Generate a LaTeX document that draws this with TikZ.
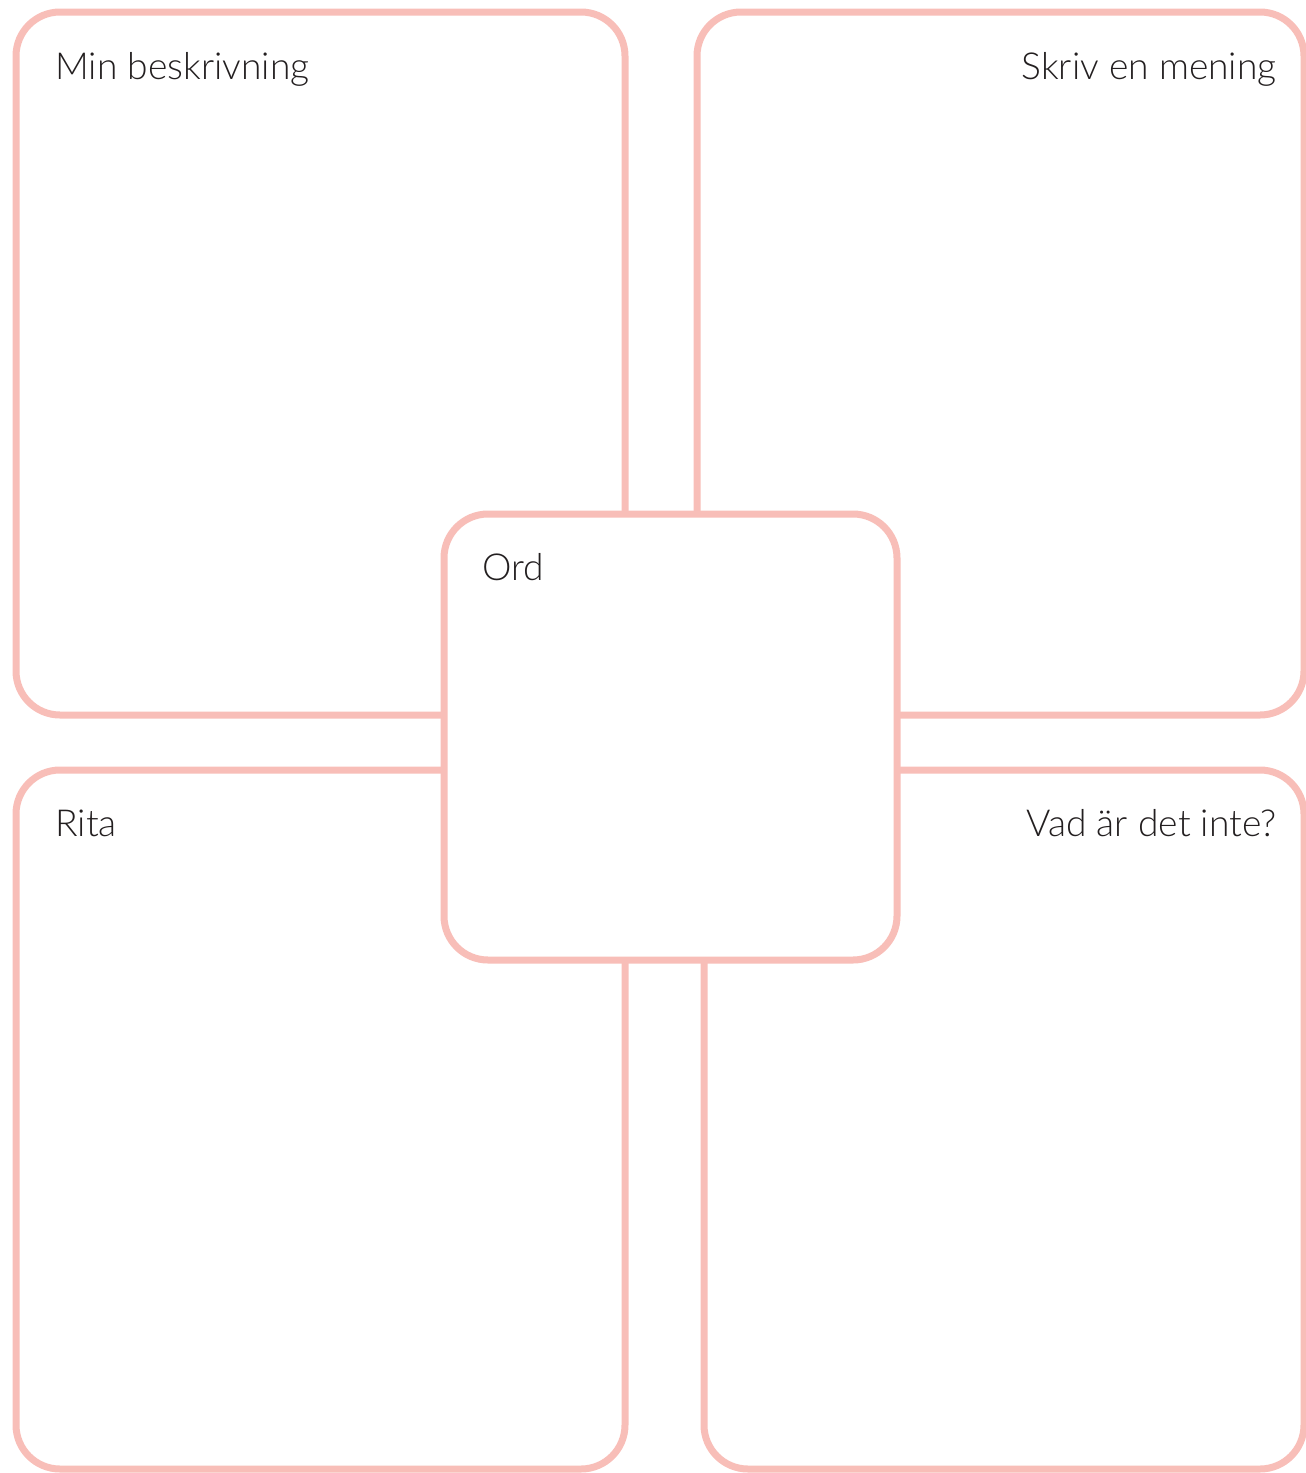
\documentclass[tikz,border=0pt]{standalone}
\usepackage{fontspec}
\setmainfont{Lato}[UprightFont=* Light]
\definecolor{rosa}{RGB}{248,190,184}
\definecolor{ink}{RGB}{35,31,32}
\begin{document}
\begin{tikzpicture}[x=0.5pt, y=-0.5pt,
    panel/.style={draw=rosa, line width=3.5pt, rounded corners=22pt, fill=white, inner sep=0pt},
    rubrik/.style={text=ink, font=\fontsize{18.6}{21}\selectfont, inner sep=0pt}]
  \useasboundingbox (0,0) rectangle (1306,1473);
  \node[panel, minimum width=304.5pt, minimum height=351.5pt] (beskr) at (320.5,363.5) {};
  \node[panel, minimum width=303.5pt, minimum height=351.5pt] (mening) at (1000.5,363.5) {};
  \node[panel, minimum width=304.5pt, minimum height=349.5pt] (rita) at (320.5,1119.5) {};
  \node[panel, minimum width=300pt, minimum height=349.5pt] (inte) at (1004,1119.5) {};
  \node[panel, minimum width=226.5pt, minimum height=223pt] (ord) at (670.5,737) {};
  \node[rubrik, anchor=base west] (beskrtxt) at (55,79) {Min beskrivning};
  \node[rubrik, anchor=base east] (meningtxt) at (1277,79) {Skriv en mening};
  \node[rubrik, anchor=base west] (ordtxt) at (482,580) {Ord};
  \node[rubrik, anchor=base west] (ritatxt) at (55,836) {Rita};
  \node[rubrik, anchor=base east] (intetxt) at (1277,836) {Vad är det inte?};
\end{tikzpicture}
\end{document}
